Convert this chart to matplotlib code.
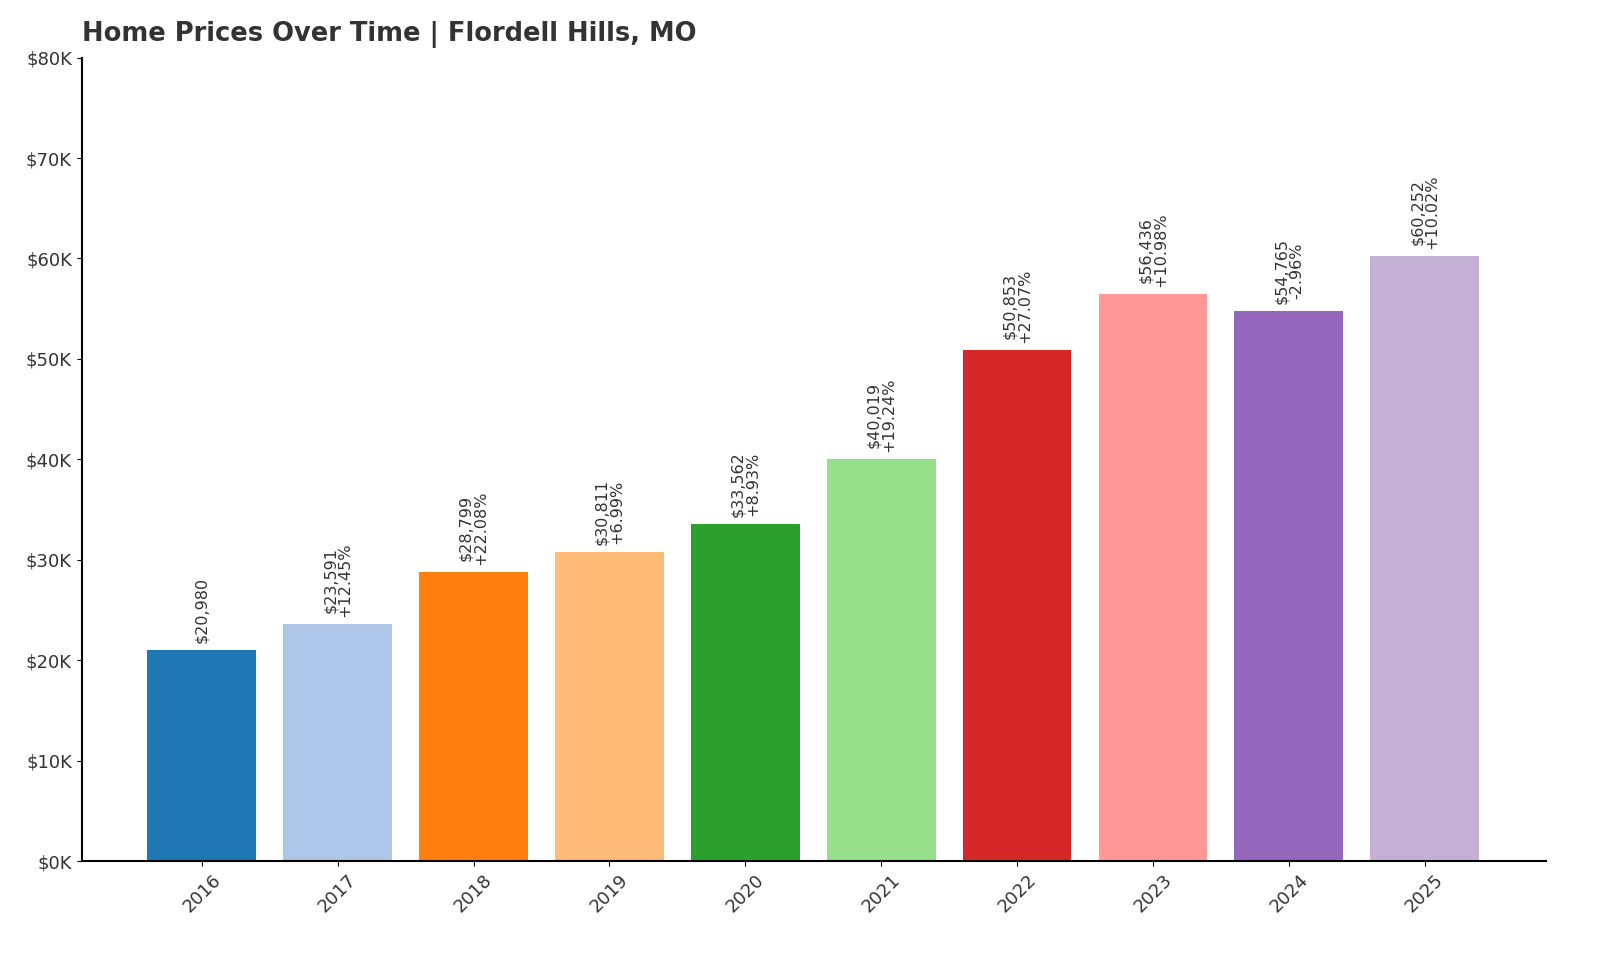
import matplotlib
matplotlib.use("Agg")
import matplotlib.pyplot as plt
from matplotlib.ticker import FuncFormatter

years = ["2016","2017","2018","2019","2020","2021","2022","2023","2024","2025"]
prices = [20980, 23591, 28799, 30811, 33562, 40019, 50853, 56436, 54765, 60252]
changes = [None, "+12.45%", "+22.08%", "+6.99%", "+8.93%", "+19.24%", "+27.07%", "+10.98%", "-2.96%", "+10.02%"]
colors = ["#1f77b4","#aec7e8","#ff7f0e","#ffbb78","#2ca02c","#98df8a","#d62728","#ff9896","#9467bd","#c5b0d5"]

fig = plt.figure(figsize=(16, 9.6), dpi=100)
ax = fig.add_axes([0.051, 0.103, 0.915, 0.837])
x = range(len(years))
ax.bar(x, prices, width=0.8, color=colors)
for i, (p, c) in enumerate(zip(prices, changes)):
    txt = f"${p:,}" if c is None else f"${p:,}\n{c}"
    ax.text(i, p + 700, txt, rotation=90, ha="center", va="bottom", fontsize=11.5, color="#333333", linespacing=1.0)
ax.set_xlim(-0.885, 9.89)
ax.set_ylim(0, 80000)
ax.set_yticks(range(0, 80001, 10000))
ax.yaxis.set_major_formatter(FuncFormatter(lambda v, _: f"${int(v/1000)}K"))
ax.set_xticks(list(x))
ax.set_xticklabels(years, rotation=45, fontsize=13, color="#333333")
ax.tick_params(axis="y", labelsize=13, labelcolor="#333333")
ax.spines["top"].set_visible(False)
ax.spines["right"].set_visible(False)
ax.spines["left"].set_linewidth(1.5)
ax.spines["bottom"].set_linewidth(1.5)
fig.text(0.051, 0.95, "Home Prices Over Time | Flordell Hills, MO", fontsize=18.5, fontweight="bold", color="#333333", va="bottom")
fig.savefig("out.png", dpi=100)
